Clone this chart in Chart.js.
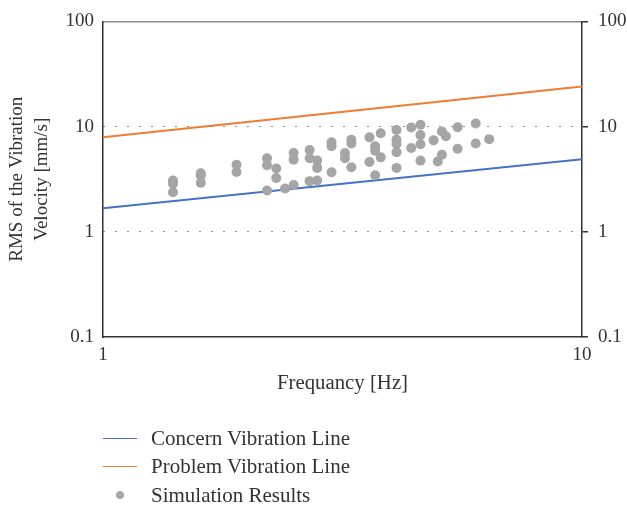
<!DOCTYPE html>
<html>
<head>
<meta charset="utf-8">
<script src="https://cdn.jsdelivr.net/npm/chart.js@4/dist/chart.umd.min.js"></script>
<style>
    body { margin: 0; background: #fff; }
    #wrap { position: relative; width: 627px; height: 509px; }
    #legend { position: absolute; left: 103px; top: 424px; font-family: "Liberation Serif", serif; font-size: 21px; color: #333; }
    .item { height: 28.5px; display: flex; align-items: center; }
    .mark { width: 48px; display: inline-block; }
    .line { width: 34px; height: 0; }
    .dot { width: 8px; height: 8px; border-radius: 50%; background: #a5a5a5; margin-left: 13px; }
</style>
</head>
<body>
<div id="wrap">
    <canvas id="scatter-chart" width="627" height="509"></canvas>
    <div id="legend"></div>
</div>
<script>
// guide lines (end points)
const concernFreq = [1, 10];
const concernVel = [1.67, 4.9];
const problemFreq = [1, 10];
const problemVel = [7.9, 24];

// simulation results
const simFreq = [
    1.4, 1.4, 1.4,
    1.6, 1.6, 1.6,
    1.9, 1.9,
    2.2, 2.2, 2.2,
    2.3, 2.3,
    2.4,
    2.5, 2.5, 2.5,
    2.7, 2.7, 2.7,
    2.8, 2.8, 2.8,
    3.0, 3.0, 3.0,
    3.2, 3.2,
    3.3, 3.3, 3.3,
    3.6, 3.6,
    3.7, 3.7, 3.7,
    3.8, 3.8,
    4.1, 4.1, 4.1, 4.1, 4.1,
    4.4, 4.4,
    4.6, 4.6, 4.6, 4.6,
    4.9,
    5.0,
    5.1, 5.1,
    5.2,
    5.5, 5.5,
    6.0, 6.0,
    6.4
];
const simVel = [
    3.07, 2.86, 2.38,
    3.6, 3.43, 2.92,
    4.35, 3.7,
    5.0, 4.3, 2.47,
    4.0, 3.25,
    2.58,
    5.6, 4.85, 2.78,
    6.0, 5.0, 3.03,
    4.75, 4.05, 3.07,
    7.1, 6.5, 3.68,
    5.6, 5.0,
    7.5, 6.9, 4.1,
    7.9, 4.6,
    6.5, 5.9, 3.45,
    8.65, 5.1,
    9.3, 7.5, 6.85, 5.7, 4.05,
    9.8, 6.25,
    10.4, 8.3, 6.8, 4.75,
    7.4,
    4.67,
    9.0, 5.4,
    8.1,
    9.85, 6.15,
    10.7, 6.9,
    7.6
];

const yTicks = [0.1, 1, 10, 100];
const xTicks = [1, 10];
const legendLabels = ['Concern Vibration Line', 'Problem Vibration Line', 'Simulation Results'];

function toPoints(xs, ys){
    return xs.map((x, i) => ({x: x, y: ys[i]}));
}

const serif = '"Liberation Serif", "Times New Roman", serif';
const axisColor = '#333';

const ctx = document.getElementById('scatter-chart').getContext('2d');
const chart = new Chart(ctx, {
    type: 'scatter',
    data: {
        datasets: [{
            label: legendLabels[2],
            data: toPoints(simFreq, simVel),
            backgroundColor: '#a5a5a5',
            borderWidth: 0,
            pointRadius: 5,
            order: 0
        }, {
            label: legendLabels[0],
            data: toPoints(concernFreq, concernVel),
            showLine: true,
            borderColor: '#4472c4',
            borderWidth: 2,
            pointRadius: 0,
            order: 1
        }, {
            label: legendLabels[1],
            data: toPoints(problemFreq, problemVel),
            showLine: true,
            borderColor: '#ed7d31',
            borderWidth: 2,
            pointRadius: 0,
            order: 1
        }]
    },
    options: {
        responsive: false,
        animation: false,
        layout: { padding: { top: 19, bottom: 0, left: 0, right: 0 } },
        plugins: { legend: { display: false }, tooltip: { enabled: false } },
        scales: {
            x: {
                type: 'logarithmic',
                position: 'bottom',
                min: 1, max: 10,
                afterBuildTicks: (s) => { s.ticks = xTicks.map(v => ({value: v})); },
                afterFit: (s) => { s.height = 172; },
                grid: { display: false, drawTicks: false },
                border: { display: true, color: axisColor, width: 1.5 },
                ticks: { padding: 7, color: axisColor, font: { family: serif, size: 19 }, callback: (v) => String(v) },
                title: { display: true, text: 'Frequancy [Hz]', color: axisColor,
                    font: { family: serif, size: 20.8, lineHeight: 1.3 }, padding: { top: 0, bottom: 112 } }
            },
            x2: {
                type: 'logarithmic',
                position: 'top',
                min: 1, max: 10,
                afterFit: (s) => { s.height = 0; },
                grid: { display: false, drawTicks: false },
                border: { display: true, color: '#8c8c8c', width: 1.5 },
                ticks: { display: false }
            },
            y: {
                type: 'logarithmic',
                position: 'left',
                min: 0.1, max: 100,
                afterBuildTicks: (s) => { s.ticks = yTicks.map(v => ({value: v})); },
                afterFit: (s) => { s.width = 103; },
                grid: {
                    drawTicks: false,
                    lineWidth: 1,
                    color: (c) => (c.tick && (c.tick.value === 1 || c.tick.value === 10)) ? '#222' : 'rgba(0,0,0,0)'
                },
                //dash applies to the dotted grid lines at 1 and 10
                border: { display: true, color: axisColor, width: 1.5, dash: [1, 11], dashOffset: 0 },
                ticks: { padding: 9, color: axisColor, font: { family: serif, size: 19 }, callback: (v) => String(v) },
                title: { display: true, text: ['RMS of the Vibration', 'Velocity [mm/s]'], color: axisColor,
                    font: { family: serif, size: 19, lineHeight: 1.32 }, padding: { top: 4.5, bottom: 0 } }
            },
            y2: {
                type: 'logarithmic',
                position: 'right',
                min: 0.1, max: 100,
                afterBuildTicks: (s) => { s.ticks = yTicks.map(v => ({value: v})); },
                afterFit: (s) => { s.width = 45; },
                grid: { drawOnChartArea: false, drawTicks: true, tickLength: 6, color: axisColor, lineWidth: 1.5 },
                border: { display: true, color: axisColor, width: 1.5 },
                ticks: { padding: 10, color: axisColor, font: { family: serif, size: 19 }, callback: (v) => String(v) }
            }
        }
    }
});

//legend below the chart
const legendDiv = document.getElementById('legend');
const legendMarks = [
    '<span class="mark"><span class="line" style="display:block;border-top:1.5px solid #4472c4"></span></span>',
    '<span class="mark"><span class="line" style="display:block;border-top:1.5px solid #ed7d31"></span></span>',
    '<span class="mark"><span class="dot" style="display:block"></span></span>'
];
legendLabels.forEach(function(label, i){
    const row = document.createElement('div');
    row.className = 'item';
    row.innerHTML = legendMarks[i] + '<span>' + label + '</span>';
    legendDiv.appendChild(row);
});
</script>
</body>
</html>
